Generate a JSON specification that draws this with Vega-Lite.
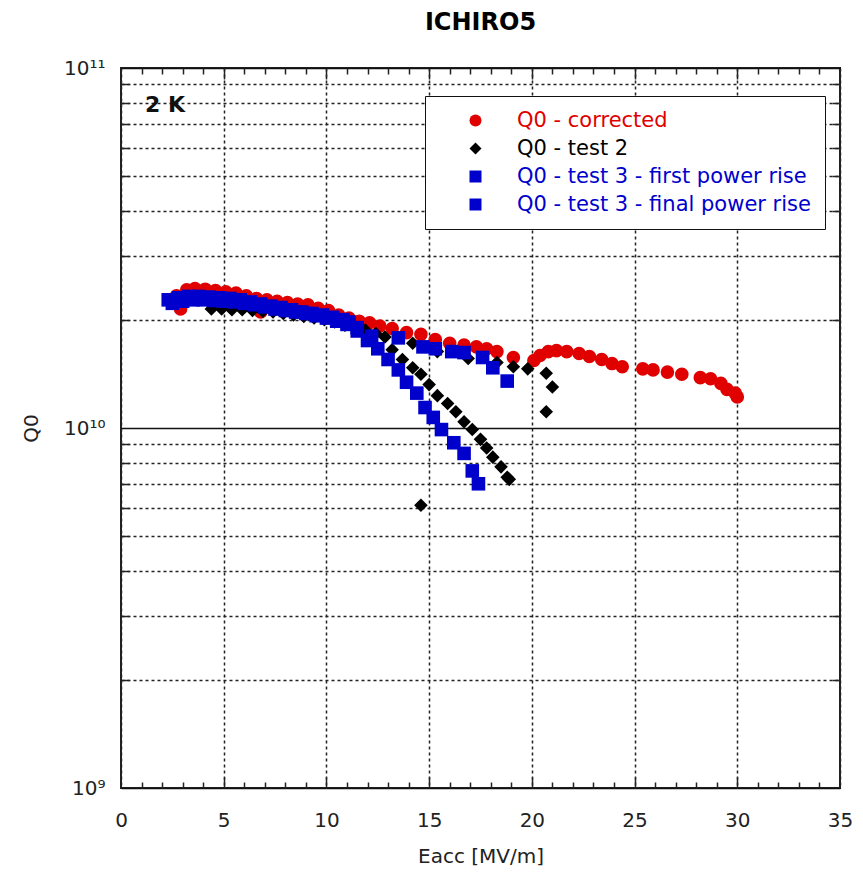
{
  "$schema": "https://vega.github.io/schema/vega-lite/v6.json",
  "width": 719,
  "height": 720,
  "autosize": "none",
  "padding": {"left": 121, "top": 68, "right": 23, "bottom": 93},
  "title": {"text": "ICHIRO5", "fontSize": 24, "fontWeight": "bold", "font": "DejaVu Sans", "offset": 23, "color": "#000"},
  "config": {
    "font": "DejaVu Sans",
    "view": {"stroke": "#222", "strokeWidth": 2},
    "axis": {"domain": false, "tickColor": "#222", "tickWidth": 1.5, "labelColor": "#222", "titleColor": "#222", "labelFontSize": 20, "titleFontSize": 20, "titleFontWeight": "normal", "labelFlush": false}
  },
  "data": {
    "values": [
      {"s": "Q0 - corrected", "x": 2.7, "q": 2.33e10},
      {"s": "Q0 - corrected", "x": 2.9, "q": 2.14e10},
      {"s": "Q0 - corrected", "x": 3.2, "q": 2.42e10},
      {"s": "Q0 - corrected", "x": 3.6, "q": 2.44e10},
      {"s": "Q0 - corrected", "x": 4.1, "q": 2.43e10},
      {"s": "Q0 - corrected", "x": 4.6, "q": 2.41e10},
      {"s": "Q0 - corrected", "x": 5.1, "q": 2.39e10},
      {"s": "Q0 - corrected", "x": 5.6, "q": 2.37e10},
      {"s": "Q0 - corrected", "x": 6.1, "q": 2.33e10},
      {"s": "Q0 - corrected", "x": 6.6, "q": 2.29e10},
      {"s": "Q0 - corrected", "x": 6.8, "q": 2.1e10},
      {"s": "Q0 - corrected", "x": 7.1, "q": 2.27e10},
      {"s": "Q0 - corrected", "x": 7.6, "q": 2.25e10},
      {"s": "Q0 - corrected", "x": 8.1, "q": 2.23e10},
      {"s": "Q0 - corrected", "x": 8.6, "q": 2.21e10},
      {"s": "Q0 - corrected", "x": 9.1, "q": 2.2e10},
      {"s": "Q0 - corrected", "x": 9.6, "q": 2.15e10},
      {"s": "Q0 - corrected", "x": 10.1, "q": 2.12e10},
      {"s": "Q0 - corrected", "x": 10.6, "q": 2.06e10},
      {"s": "Q0 - corrected", "x": 11.1, "q": 2.02e10},
      {"s": "Q0 - corrected", "x": 11.6, "q": 1.98e10},
      {"s": "Q0 - corrected", "x": 12.1, "q": 1.96e10},
      {"s": "Q0 - corrected", "x": 12.6, "q": 1.92e10},
      {"s": "Q0 - corrected", "x": 13.2, "q": 1.89e10},
      {"s": "Q0 - corrected", "x": 13.9, "q": 1.84e10},
      {"s": "Q0 - corrected", "x": 14.6, "q": 1.82e10},
      {"s": "Q0 - corrected", "x": 15.3, "q": 1.76e10},
      {"s": "Q0 - corrected", "x": 16.0, "q": 1.72e10},
      {"s": "Q0 - corrected", "x": 16.7, "q": 1.7e10},
      {"s": "Q0 - corrected", "x": 17.3, "q": 1.68e10},
      {"s": "Q0 - corrected", "x": 17.8, "q": 1.66e10},
      {"s": "Q0 - corrected", "x": 18.3, "q": 1.63e10},
      {"s": "Q0 - corrected", "x": 19.1, "q": 1.57e10},
      {"s": "Q0 - corrected", "x": 20.1, "q": 1.54e10},
      {"s": "Q0 - corrected", "x": 20.4, "q": 1.59e10},
      {"s": "Q0 - corrected", "x": 20.8, "q": 1.63e10},
      {"s": "Q0 - corrected", "x": 21.2, "q": 1.64e10},
      {"s": "Q0 - corrected", "x": 21.7, "q": 1.63e10},
      {"s": "Q0 - corrected", "x": 22.3, "q": 1.61e10},
      {"s": "Q0 - corrected", "x": 22.8, "q": 1.58e10},
      {"s": "Q0 - corrected", "x": 23.4, "q": 1.55e10},
      {"s": "Q0 - corrected", "x": 23.9, "q": 1.51e10},
      {"s": "Q0 - corrected", "x": 24.4, "q": 1.48e10},
      {"s": "Q0 - corrected", "x": 25.4, "q": 1.46e10},
      {"s": "Q0 - corrected", "x": 25.9, "q": 1.45e10},
      {"s": "Q0 - corrected", "x": 26.6, "q": 1.43e10},
      {"s": "Q0 - corrected", "x": 27.3, "q": 1.41e10},
      {"s": "Q0 - corrected", "x": 28.2, "q": 1.38e10},
      {"s": "Q0 - corrected", "x": 28.7, "q": 1.37e10},
      {"s": "Q0 - corrected", "x": 29.2, "q": 1.33e10},
      {"s": "Q0 - corrected", "x": 29.5, "q": 1.28e10},
      {"s": "Q0 - corrected", "x": 29.9, "q": 1.25e10},
      {"s": "Q0 - corrected", "x": 30.0, "q": 1.22e10},
      {"s": "Q0 - test 2", "x": 4.4, "q": 2.14e10},
      {"s": "Q0 - test 2", "x": 4.9, "q": 2.14e10},
      {"s": "Q0 - test 2", "x": 5.4, "q": 2.13e10},
      {"s": "Q0 - test 2", "x": 5.9, "q": 2.13e10},
      {"s": "Q0 - test 2", "x": 6.4, "q": 2.12e10},
      {"s": "Q0 - test 2", "x": 6.9, "q": 2.11e10},
      {"s": "Q0 - test 2", "x": 7.4, "q": 2.1e10},
      {"s": "Q0 - test 2", "x": 7.9, "q": 2.08e10},
      {"s": "Q0 - test 2", "x": 8.4, "q": 2.06e10},
      {"s": "Q0 - test 2", "x": 8.9, "q": 2.04e10},
      {"s": "Q0 - test 2", "x": 9.4, "q": 2.02e10},
      {"s": "Q0 - test 2", "x": 9.9, "q": 2.0e10},
      {"s": "Q0 - test 2", "x": 10.4, "q": 1.97e10},
      {"s": "Q0 - test 2", "x": 10.9, "q": 1.93e10},
      {"s": "Q0 - test 2", "x": 11.4, "q": 1.9e10},
      {"s": "Q0 - test 2", "x": 11.9, "q": 1.87e10},
      {"s": "Q0 - test 2", "x": 12.4, "q": 1.83e10},
      {"s": "Q0 - test 2", "x": 12.85, "q": 1.79e10},
      {"s": "Q0 - test 2", "x": 14.2, "q": 1.72e10},
      {"s": "Q0 - test 2", "x": 15.4, "q": 1.63e10},
      {"s": "Q0 - test 2", "x": 16.9, "q": 1.56e10},
      {"s": "Q0 - test 2", "x": 18.3, "q": 1.52e10},
      {"s": "Q0 - test 2", "x": 19.1, "q": 1.48e10},
      {"s": "Q0 - test 2", "x": 19.8, "q": 1.46e10},
      {"s": "Q0 - test 2", "x": 20.7, "q": 1.42e10},
      {"s": "Q0 - test 2", "x": 21.0, "q": 1.3e10},
      {"s": "Q0 - test 2", "x": 20.7, "q": 1.11e10},
      {"s": "Q0 - test 2", "x": 13.2, "q": 1.65e10},
      {"s": "Q0 - test 2", "x": 13.7, "q": 1.55e10},
      {"s": "Q0 - test 2", "x": 14.2, "q": 1.47e10},
      {"s": "Q0 - test 2", "x": 14.6, "q": 1.41e10},
      {"s": "Q0 - test 2", "x": 15.0, "q": 1.32e10},
      {"s": "Q0 - test 2", "x": 15.4, "q": 1.23e10},
      {"s": "Q0 - test 2", "x": 15.9, "q": 1.17e10},
      {"s": "Q0 - test 2", "x": 16.3, "q": 1.11e10},
      {"s": "Q0 - test 2", "x": 16.7, "q": 1.04e10},
      {"s": "Q0 - test 2", "x": 17.1, "q": 9.9e9},
      {"s": "Q0 - test 2", "x": 17.5, "q": 9.3e9},
      {"s": "Q0 - test 2", "x": 17.8, "q": 8.8e9},
      {"s": "Q0 - test 2", "x": 18.1, "q": 8.3e9},
      {"s": "Q0 - test 2", "x": 18.5, "q": 7.8e9},
      {"s": "Q0 - test 2", "x": 18.8, "q": 7.3e9},
      {"s": "Q0 - test 2", "x": 18.9, "q": 7.2e9},
      {"s": "Q0 - test 2", "x": 14.6, "q": 6.1e9},
      {"s": "Q0 - test 3 - first power rise", "x": 2.3, "q": 2.27e10},
      {"s": "Q0 - test 3 - first power rise", "x": 2.8, "q": 2.3e10},
      {"s": "Q0 - test 3 - first power rise", "x": 3.3, "q": 2.32e10},
      {"s": "Q0 - test 3 - first power rise", "x": 3.8, "q": 2.32e10},
      {"s": "Q0 - test 3 - first power rise", "x": 4.3, "q": 2.31e10},
      {"s": "Q0 - test 3 - first power rise", "x": 4.8, "q": 2.3e10},
      {"s": "Q0 - test 3 - first power rise", "x": 5.3, "q": 2.29e10},
      {"s": "Q0 - test 3 - first power rise", "x": 5.8, "q": 2.27e10},
      {"s": "Q0 - test 3 - first power rise", "x": 6.3, "q": 2.24e10},
      {"s": "Q0 - test 3 - first power rise", "x": 6.8, "q": 2.21e10},
      {"s": "Q0 - test 3 - first power rise", "x": 7.3, "q": 2.18e10},
      {"s": "Q0 - test 3 - first power rise", "x": 7.8, "q": 2.16e10},
      {"s": "Q0 - test 3 - first power rise", "x": 8.3, "q": 2.13e10},
      {"s": "Q0 - test 3 - first power rise", "x": 8.8, "q": 2.1e10},
      {"s": "Q0 - test 3 - first power rise", "x": 9.3, "q": 2.08e10},
      {"s": "Q0 - test 3 - first power rise", "x": 9.8, "q": 2.06e10},
      {"s": "Q0 - test 3 - first power rise", "x": 10.3, "q": 2.03e10},
      {"s": "Q0 - test 3 - first power rise", "x": 10.8, "q": 2.0e10},
      {"s": "Q0 - test 3 - first power rise", "x": 11.1, "q": 1.97e10},
      {"s": "Q0 - test 3 - first power rise", "x": 11.5, "q": 1.86e10},
      {"s": "Q0 - test 3 - first power rise", "x": 12.0, "q": 1.75e10},
      {"s": "Q0 - test 3 - first power rise", "x": 12.5, "q": 1.66e10},
      {"s": "Q0 - test 3 - first power rise", "x": 13.0, "q": 1.55e10},
      {"s": "Q0 - test 3 - first power rise", "x": 13.5, "q": 1.45e10},
      {"s": "Q0 - test 3 - first power rise", "x": 13.9, "q": 1.34e10},
      {"s": "Q0 - test 3 - first power rise", "x": 14.4, "q": 1.25e10},
      {"s": "Q0 - test 3 - first power rise", "x": 14.8, "q": 1.14e10},
      {"s": "Q0 - test 3 - first power rise", "x": 15.2, "q": 1.07e10},
      {"s": "Q0 - test 3 - first power rise", "x": 15.6, "q": 9.9e9},
      {"s": "Q0 - test 3 - first power rise", "x": 16.2, "q": 9.1e9},
      {"s": "Q0 - test 3 - first power rise", "x": 16.7, "q": 8.5e9},
      {"s": "Q0 - test 3 - first power rise", "x": 17.1, "q": 7.6e9},
      {"s": "Q0 - test 3 - first power rise", "x": 17.4, "q": 7.0e9},
      {"s": "Q0 - test 3 - final power rise", "x": 2.5, "q": 2.22e10},
      {"s": "Q0 - test 3 - final power rise", "x": 3.0, "q": 2.25e10},
      {"s": "Q0 - test 3 - final power rise", "x": 3.5, "q": 2.27e10},
      {"s": "Q0 - test 3 - final power rise", "x": 4.0, "q": 2.27e10},
      {"s": "Q0 - test 3 - final power rise", "x": 4.5, "q": 2.26e10},
      {"s": "Q0 - test 3 - final power rise", "x": 5.0, "q": 2.25e10},
      {"s": "Q0 - test 3 - final power rise", "x": 5.5, "q": 2.24e10},
      {"s": "Q0 - test 3 - final power rise", "x": 6.0, "q": 2.22e10},
      {"s": "Q0 - test 3 - final power rise", "x": 6.5, "q": 2.2e10},
      {"s": "Q0 - test 3 - final power rise", "x": 7.0, "q": 2.17e10},
      {"s": "Q0 - test 3 - final power rise", "x": 7.5, "q": 2.14e10},
      {"s": "Q0 - test 3 - final power rise", "x": 8.0, "q": 2.12e10},
      {"s": "Q0 - test 3 - final power rise", "x": 8.5, "q": 2.1e10},
      {"s": "Q0 - test 3 - final power rise", "x": 9.0, "q": 2.08e10},
      {"s": "Q0 - test 3 - final power rise", "x": 9.5, "q": 2.05e10},
      {"s": "Q0 - test 3 - final power rise", "x": 10.0, "q": 2.02e10},
      {"s": "Q0 - test 3 - final power rise", "x": 10.5, "q": 1.98e10},
      {"s": "Q0 - test 3 - final power rise", "x": 11.0, "q": 1.94e10},
      {"s": "Q0 - test 3 - final power rise", "x": 11.5, "q": 1.9e10},
      {"s": "Q0 - test 3 - final power rise", "x": 12.2, "q": 1.8e10},
      {"s": "Q0 - test 3 - final power rise", "x": 13.5, "q": 1.78e10},
      {"s": "Q0 - test 3 - final power rise", "x": 14.7, "q": 1.68e10},
      {"s": "Q0 - test 3 - final power rise", "x": 15.3, "q": 1.66e10},
      {"s": "Q0 - test 3 - final power rise", "x": 16.1, "q": 1.63e10},
      {"s": "Q0 - test 3 - final power rise", "x": 16.7, "q": 1.62e10},
      {"s": "Q0 - test 3 - final power rise", "x": 17.6, "q": 1.57e10},
      {"s": "Q0 - test 3 - final power rise", "x": 18.1, "q": 1.47e10},
      {"s": "Q0 - test 3 - final power rise", "x": 18.8, "q": 1.35e10}
    ]
  },
  "resolve": {"axis": {"x": "independent", "y": "independent"}},
  "layer": [
    {
      "mark": {"type": "point", "filled": true, "size": 185, "opacity": 1, "strokeWidth": 0},
      "encoding": {
        "x": {"field": "x", "type": "quantitative", "scale": {"domain": [0, 35], "nice": false, "zero": false},
          "axis": {"orient": "bottom", "values": [0, 5, 10, 15, 20, 25, 30, 35], "ticks": false, "grid": true, "gridDash": [3, 3], "gridColor": "#222", "gridWidth": 1.5, "labelPadding": 22, "title": "Eacc [MV/m]", "titlePadding": 16}},
        "y": {"field": "q", "type": "quantitative", "scale": {"type": "log", "domain": [1e9, 1e11], "nice": false},
          "axis": {"orient": "left", "values": [1e9, 1e10, 1e11], "ticks": false, "grid": true, "gridColor": "#111", "gridWidth": 1.5, "labelPadding": 16, "labelExpr": "datum.value > 5e10 ? '10¹¹' : datum.value > 5e9 ? '10¹⁰' : '10⁹'", "title": "Q0", "titlePadding": 22}},
        "color": {"field": "s", "type": "nominal",
          "scale": {"domain": ["Q0 - corrected", "Q0 - test 2", "Q0 - test 3 - first power rise", "Q0 - test 3 - final power rise"], "range": ["#e00000", "#000000", "#0000cc", "#0000cc"]},
          "legend": {"title": null, "orient": "none", "legendX": 304, "legendY": 28, "fillColor": "white", "strokeColor": "#111", "padding": 14, "symbolOffset": 26, "labelOffset": 31, "labelFontSize": 21, "labelLimit": 500, "symbolSize": 144, "symbolStrokeWidth": 0, "rowPadding": 6,
            "labelColor": {"expr": "datum.value === 'Q0 - test 2' ? '#000000' : datum.value === 'Q0 - corrected' ? '#e00000' : '#0000cc'"},
            "encode": {"legend": {"strokeWidth": {"value": 2}}, "labels": {"fill": {"condition": [{"test": "datum.value === 'Q0 - test 2'", "value": "#000000"}, {"test": "datum.value === 'Q0 - corrected'", "value": "#e00000"}], "value": "#0000cc"}}}}},
        "shape": {"field": "s", "type": "nominal",
          "scale": {"domain": ["Q0 - corrected", "Q0 - test 2", "Q0 - test 3 - first power rise", "Q0 - test 3 - final power rise"], "range": ["circle", "diamond", "square", "square"]}}
      }
    },
    {
      "mark": {"type": "point", "opacity": 0},
      "encoding": {
        "x": {"field": "x", "type": "quantitative", "axis": {"orient": "bottom", "values": [1,2,3,4,6,7,8,9,11,12,13,14,16,17,18,19,21,22,23,24,26,27,28,29,31,32,33,34], "tickSize": -6, "labels": false, "grid": false, "title": null}},
        "y": {"field": "q", "type": "quantitative", "axis": {"orient": "left", "values": [2e9,3e9,4e9,5e9,6e9,7e9,8e9,9e9,2e10,3e10,4e10,5e10,6e10,7e10,8e10,9e10], "tickSize": -8, "labels": false, "grid": true, "gridDash": [3, 3], "gridColor": "#222", "gridWidth": 1.5, "title": null}}
      }
    },
    {
      "mark": {"type": "point", "opacity": 0},
      "encoding": {
        "x": {"field": "x", "type": "quantitative", "axis": {"orient": "bottom", "values": [5, 10, 15, 20, 25, 30], "tickSize": -11, "labels": false, "grid": false, "title": null}},
        "y": {"field": "q", "type": "quantitative", "axis": {"orient": "right", "values": [2e9,3e9,4e9,5e9,6e9,7e9,8e9,9e9,2e10,3e10,4e10,5e10,6e10,7e10,8e10,9e10], "tickSize": -8, "labels": false, "grid": false, "title": null}}
      }
    },
    {
      "mark": {"type": "point", "opacity": 0},
      "encoding": {
        "x": {"field": "x", "type": "quantitative", "axis": {"orient": "top", "values": [1,2,3,4,6,7,8,9,11,12,13,14,16,17,18,19,21,22,23,24,26,27,28,29,31,32,33,34], "tickSize": -6, "labels": false, "grid": false, "title": null}},
        "y": {"field": "q", "type": "quantitative", "axis": null}
      }
    },
    {
      "mark": {"type": "point", "opacity": 0},
      "encoding": {
        "x": {"field": "x", "type": "quantitative", "axis": {"orient": "top", "values": [5, 10, 15, 20, 25, 30], "tickSize": -11, "labels": false, "grid": false, "title": null}},
        "y": {"field": "q", "type": "quantitative", "axis": null}
      }
    },
    {
      "data": {"values": [{"x": 2.14, "q": 7.9e10, "label": "2 K"}]},
      "mark": {"type": "text", "fontSize": 22, "fontWeight": "bold", "font": "DejaVu Sans", "align": "center", "baseline": "middle", "color": "#111"},
      "encoding": {
        "x": {"field": "x", "type": "quantitative", "axis": null},
        "y": {"field": "q", "type": "quantitative", "axis": null},
        "text": {"field": "label"}
      }
    }
  ]
}
